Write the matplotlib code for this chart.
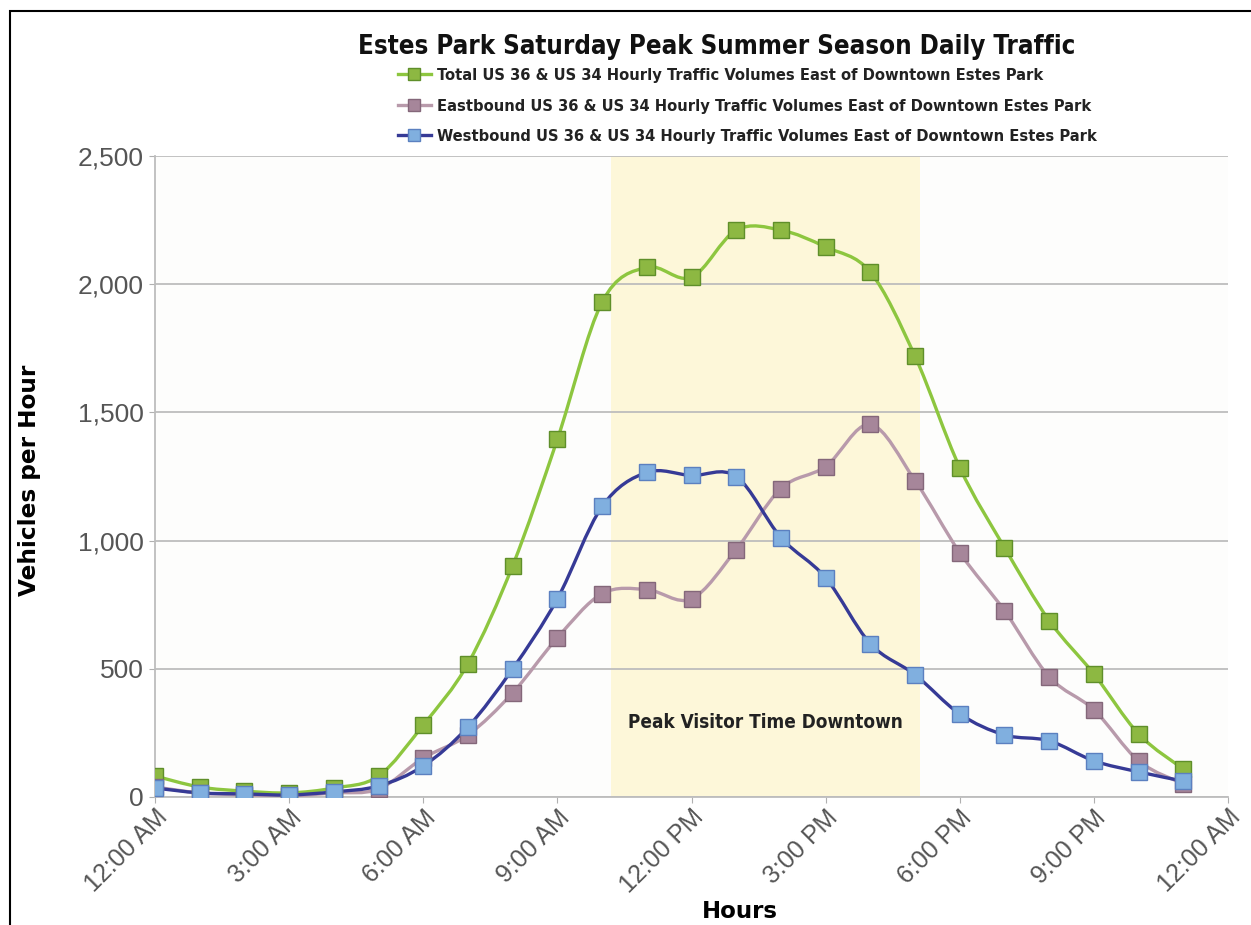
"""
Estes Park Saturday peak summer season daily traffic, hourly volumes.
"""

import matplotlib
matplotlib.use("Agg")
import matplotlib.pyplot as plt
from matplotlib.lines import Line2D
from matplotlib.patches import PathPatch, Rectangle
from matplotlib.path import Path
import numpy as np

hours = list(range(24))
total = [82, 39, 23, 16, 35, 82, 281, 520, 902, 1395, 1930, 2066, 2027, 2211,
         2211, 2145, 2047, 1719, 1285, 973, 688, 480, 246, 109]
eastbound = [39, 16, 8, 4, 16, 31, 152, 242, 406, 621, 793, 809, 773, 965,
             1203, 1289, 1453, 1234, 953, 727, 469, 340, 141, 51]
westbound = [35, 16, 12, 8, 20, 43, 121, 273, 500, 773, 1133, 1266, 1254, 1250,
             1012, 855, 598, 477, 324, 242, 219, 141, 98, 62]

tick_hours = [0, 3, 6, 9, 12, 15, 18, 21, 24]
tick_labels = ["12:00 AM", "3:00 AM", "6:00 AM", "9:00 AM", "12:00 PM",
               "3:00 PM", "6:00 PM", "9:00 PM", "12:00 AM"]
peak_start, peak_end = 10.2, 17.1

series = [
    ("Total US 36 & US 34 Hourly Traffic Volumes East of Downtown Estes Park",
     total, "#8dc63f", "#8db842", "#5f8f2a"),
    ("Eastbound US 36 & US 34 Hourly Traffic Volumes East of Downtown Estes Park",
     eastbound, "#b89aab", "#a6869a", "#84677a"),
    ("Westbound US 36 & US 34 Hourly Traffic Volumes East of Downtown Estes Park",
     westbound, "#363a96", "#80afdf", "#5b80c0"),
]


def smooth_path(x, y):
    # Excel-style smoothed line: Catmull-Rom segments as cubic Beziers
    pts = np.column_stack([x, y]).astype(float)
    verts = [pts[0]]
    codes = [Path.MOVETO]
    n = len(pts)
    for i in range(n - 1):
        p0 = pts[i - 1] if i > 0 else pts[i]
        p1 = pts[i]
        p2 = pts[i + 1]
        p3 = pts[i + 2] if i + 2 < n else pts[i + 1]
        verts += [p1 + (p2 - p0) / 6.0, p2 - (p3 - p1) / 6.0, p2]
        codes += [Path.CURVE4] * 3
    return Path(verts, codes)


def main():
    fig = plt.figure(figsize=(12.51, 9.25), dpi=100)
    fig.patch.set_facecolor("white")
    ax = fig.add_axes([155 / 1251, 1 - 797 / 925, 1073 / 1251, 641 / 925])
    ax.set_facecolor("#fdfdfc")

    # outer frame of the original graphic
    fig.patches.append(Rectangle((10 / 1251, -0.1), 1.2, 1 - 11 / 925 + 0.1,
                                 transform=fig.transFigure, fill=False,
                                 edgecolor="black", linewidth=1.5))

    ax.axvspan(peak_start, peak_end, color="#fdf7d9", zorder=0, lw=0)

    handles = []
    for label, values, lc, mfc, mec in series:
        ax.add_patch(PathPatch(smooth_path(hours, values), fill=False,
                               edgecolor=lc, linewidth=2.4, zorder=3,
                               capstyle="round", joinstyle="round"))
        ax.plot(hours, values, ls="none", marker="s", markersize=11,
                markerfacecolor=mfc, markeredgecolor=mec, markeredgewidth=1,
                zorder=4)
        handles.append(Line2D([], [], color=lc, lw=2.4, marker="s",
                              markersize=9, markerfacecolor=mfc,
                              markeredgecolor=mec, label=label))

    ax.set_xlim(0, 24)
    ax.set_ylim(0, 2500)
    ax.set_xticks(tick_hours)
    ax.set_xticklabels(tick_labels, rotation=45, ha="right",
                       rotation_mode="anchor", fontsize=18, color="#555555",
                       family="Liberation Sans")
    ax.set_yticks(range(0, 2501, 500))
    ax.set_yticklabels([f"{v:,}" for v in range(0, 2501, 500)], fontsize=19,
                       color="#555555", family="Liberation Sans")
    ax.tick_params(axis="both", length=4, color="#b0b0b0", pad=4)
    ax.tick_params(axis="x", pad=2)
    ax.grid(axis="y", color="#bdbdbd", linewidth=1.3, zorder=1)
    ax.set_axisbelow(True)
    for side in ("top", "right"):
        ax.spines[side].set_visible(False)
    for side in ("left", "bottom"):
        ax.spines[side].set_color("#bdbdbd")
        ax.spines[side].set_linewidth(1.3)

    ax.text((peak_start + peak_end) / 2, 290, "Peak Visitor Time Downtown",
            ha="center", va="center", fontsize=13.6, fontweight="bold",
            color="#222222", family="DejaVu Sans", fontstretch="condensed",
            zorder=5)

    fig.text(30 / 1251, 1 - 480 / 925, "Vehicles per Hour", rotation=90,
             ha="center", va="center", fontsize=16.7, fontweight="heavy",
             family="DejaVu Sans")
    fig.text(740 / 1251, 1 - 911 / 925, "Hours", ha="center", va="center",
             fontsize=16.5, fontweight="heavy", family="DejaVu Sans")

    fig.text(717 / 1251, 1 - 47 / 925,
             "Estes Park Saturday Peak Summer Season Daily Traffic",
             ha="center", va="center", fontsize=18.5, fontweight="bold",
             color="#111111", family="DejaVu Sans", fontstretch="condensed")

    fig.legend(handles=handles, loc="upper left",
               bbox_to_anchor=(398 / 1251, 1 - 68 / 925), frameon=False,
               prop={"family": "DejaVu Sans", "size": 11.8, "weight": "bold",
                     "stretch": "condensed"},
               handlelength=2.0, handletextpad=0.35, labelspacing=0.95,
               borderaxespad=0, borderpad=0, labelcolor="#222222")

    fig.savefig("out.png", dpi=100)


if __name__ == "__main__":
    main()
